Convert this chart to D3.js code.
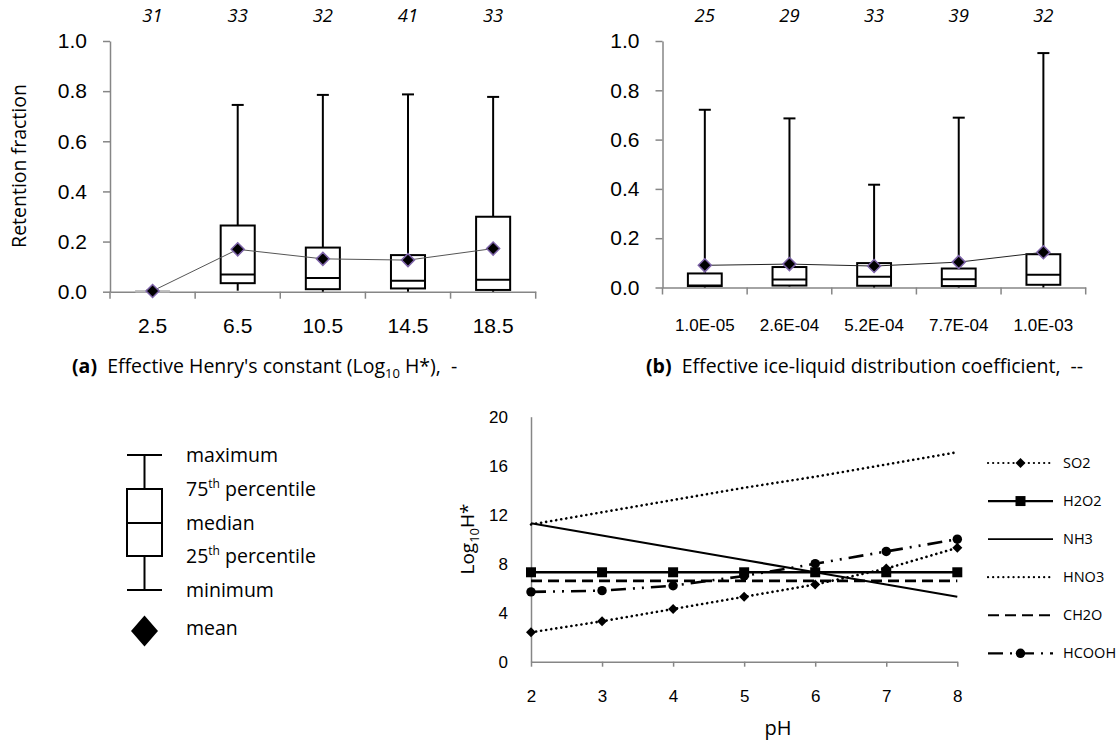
<!DOCTYPE html>
<html>
<head>
<meta charset="utf-8">
<script src="https://cdn.jsdelivr.net/npm/d3@7/dist/d3.min.js"></script>
<style>
  body { margin: 0; background: #fff; }
  svg { display: block; font-family: "Open Sans", "Noto Sans", sans-serif; }
</style>
</head>
<body>
<div id="chart"></div>
<script>
// panel (a) - effective Henry's constant bins
const catsA = ['2.5', '6.5', '10.5', '14.5', '18.5'];
const countsA = [31, 33, 32, 41, 33];
const minA = [0, 0.004, 0, 0, 0];
const q1A = [0, 0.034, 0.01, 0.013, 0.007];
const medA = [0.001, 0.069, 0.055, 0.044, 0.048];
const q3A = [0.004, 0.264, 0.176, 0.146, 0.299];
const maxA = [0.005, 0.745, 0.785, 0.787, 0.777];
const meanA = [0.003, 0.169, 0.131, 0.126, 0.172];

// panel (b) - ice-liquid distribution coefficient bins
const catsB = ['1.0E-05', '2.6E-04', '5.2E-04', '7.7E-04', '1.0E-03'];
const countsB = [25, 29, 33, 39, 32];
const minB = [0, 0.004, 0, 0, 0];
const q1B = [0.006, 0.008, 0.007, 0.006, 0.011];
const medB = [0.008, 0.032, 0.044, 0.033, 0.052];
const q3B = [0.057, 0.083, 0.099, 0.077, 0.135];
const maxB = [0.721, 0.686, 0.417, 0.689, 0.951];
const meanB = [0.09, 0.095, 0.087, 0.103, 0.143];

const yTicksBox = [0, 0.2, 0.4, 0.6, 0.8, 1.0];

// panel (c) - Log10 H* vs pH
const pH = [2, 3, 4, 5, 6, 7, 8];
const so2 = [2.4, 3.3, 4.3, 5.3, 6.3, 7.6, 9.3];
const h2o2 = [7.3, 7.3, 7.3, 7.3, 7.3, 7.3, 7.3];
const nh3 = [11.3, 10.3, 9.3, 8.3, 7.3, 6.3, 5.3];
const hno3 = [11.2, 12.2, 13.2, 14.2, 15.1, 16.1, 17.1];
const ch2o = [6.6, 6.6, 6.6, 6.6, 6.6, 6.6, 6.6];
const hcooh = [5.7, 5.8, 6.2, 7.0, 8.0, 9.0, 10.0];
const yTicksLine = [0, 4, 8, 12, 16, 20];

const W = 1120, H = 744;
const axisGrey = '#868686';

const svg = d3.select('#chart').append('svg')
  .attr('width', W)
  .attr('height', H);

function diamondPath(r) {
  return `M0,${-r}L${r},0L0,${r}L${-r},0Z`;
}

function drawBoxPanel(opt) {
  const g = svg.append('g');
  const x = d3.scaleBand().domain(opt.cats).range(opt.xRange).padding(0);
  const y = d3.scaleLinear().domain([0, 1]).range(opt.yRange);
  const bw = x.bandwidth() * 0.4;
  const cx = c => x(c) + x.bandwidth() / 2;

  // y axis
  const yAx = g.append('g')
    .attr('transform', `translate(${opt.xRange[0]},0)`)
    .call(d3.axisLeft(y).tickValues(yTicksBox).tickFormat(d3.format('.1f'))
      .tickSize(7).tickSizeOuter(0).tickPadding(16));
  yAx.selectAll('text').attr('font-size', 21).attr('fill', '#000');

  // x axis (labels only, boundary ticks drawn below)
  const xAx = g.append('g')
    .attr('transform', `translate(0,${opt.yRange[0]})`)
    .call(d3.axisBottom(x).tickSize(0).tickSizeOuter(0).tickPadding(opt.xPad));
  xAx.selectAll('text').attr('font-size', opt.xFont).attr('fill', '#000');

  const bounds = opt.cats.map(c => x(c)).concat([opt.xRange[1]]);
  g.selectAll('.bt').data(bounds).enter().append('line')
    .attr('x1', d => d).attr('x2', d => d)
    .attr('y1', opt.yRange[0]).attr('y2', opt.yRange[0] + 7)
    .attr('stroke', axisGrey).attr('stroke-width', 1.5);

  [yAx, xAx].forEach(a => {
    a.selectAll('.domain, line').attr('stroke', axisGrey).attr('stroke-width', 1.5);
  });

  const rows = opt.cats.map((c, i) => ({
    c, n: opt.counts[i], min: opt.min[i], q1: opt.q1[i], med: opt.med[i],
    q3: opt.q3[i], max: opt.max[i], mean: opt.mean[i]
  }));

  const boxes = g.selectAll('.box').data(rows).enter().append('g');
  // upper whisker
  boxes.append('line')
    .attr('x1', d => cx(d.c)).attr('x2', d => cx(d.c))
    .attr('y1', d => y(d.q3)).attr('y2', d => y(d.max))
    .attr('stroke', '#000').attr('stroke-width', 2);
  boxes.append('line')
    .attr('x1', d => cx(d.c) - 6).attr('x2', d => cx(d.c) + 6)
    .attr('y1', d => y(d.max)).attr('y2', d => y(d.max))
    .attr('stroke', '#000').attr('stroke-width', 2);
  // lower whisker
  boxes.append('line')
    .attr('x1', d => cx(d.c)).attr('x2', d => cx(d.c))
    .attr('y1', d => y(d.q1)).attr('y2', d => y(d.min))
    .attr('stroke', '#000').attr('stroke-width', 2);
  // box
  boxes.append('rect')
    .attr('x', d => cx(d.c) - bw / 2)
    .attr('width', bw)
    .attr('y', d => y(d.q3))
    .attr('height', d => Math.max(0.5, y(d.q1) - y(d.q3)))
    .attr('fill', '#fff')
    .attr('stroke', d => d.q3 - d.q1 < 0.01 ? '#bbb' : '#000')
    .attr('stroke-width', d => d.q3 - d.q1 < 0.01 ? 1 : 2);
  boxes.append('line')
    .attr('x1', d => cx(d.c) - bw / 2).attr('x2', d => cx(d.c) + bw / 2)
    .attr('y1', d => y(d.med)).attr('y2', d => y(d.med))
    .attr('stroke', d => d.q3 - d.q1 < 0.01 ? '#bbb' : '#000')
    .attr('stroke-width', 2);

  // mean line and markers
  g.append('path')
    .datum(rows)
    .attr('fill', 'none')
    .attr('stroke', opt.meanLine)
    .attr('stroke-width', 1)
    .attr('d', d3.line().x(d => cx(d.c)).y(d => y(d.mean)));
  g.selectAll('.mean').data(rows).enter().append('path')
    .attr('transform', d => `translate(${cx(d.c)},${y(d.mean)})`)
    .attr('d', diamondPath(6.5))
    .attr('fill', '#000')
    .attr('stroke', '#7d63a8')
    .attr('stroke-width', 1.5);

  // sample counts
  g.selectAll('.cnt').data(rows).enter().append('text')
    .attr('x', d => cx(d.c))
    .attr('y', 22)
    .attr('text-anchor', 'middle')
    .attr('font-size', 18.5)
    .attr('font-style', 'italic')
    .text(d => d.n);
}

drawBoxPanel({
  cats: catsA, counts: countsA, min: minA, q1: q1A, med: medA, q3: q3A, max: maxA, mean: meanA,
  xRange: [110, 535.7], yRange: [291.7, 41], xPad: 26, xFont: 21, meanLine: '#555'
});
drawBoxPanel({
  cats: catsB, counts: countsB, min: minB, q1: q1B, med: medB, q3: q3B, max: maxB, mean: meanB,
  xRange: [662.5, 1085.7], yRange: [287.5, 41], xPad: 31, xFont: 17, meanLine: '#222'
});

// y label of (a)
svg.append('text')
  .attr('transform', 'translate(26,166) rotate(-90)')
  .attr('text-anchor', 'middle')
  .attr('font-size', 19.5)
  .text('Retention fraction');

// captions
const capA = svg.append('text').attr('x', 72).attr('y', 373).attr('font-size', 19.5);
capA.append('tspan').attr('font-weight', 'bold').text('(a)');
capA.append('tspan').text('\u00a0 Effective Henry\'s constant (Log');
capA.append('tspan').attr('font-size', 13).attr('dy', 5).text('10');
capA.append('tspan').attr('dy', -5).text('\u00a0H*),\u00a0 -');

const capB = svg.append('text').attr('x', 646).attr('y', 373).attr('font-size', 19.5);
capB.append('tspan').attr('font-weight', 'bold').text('(b)');
capB.append('tspan').text('\u00a0 Effective ice-liquid distribution coefficient,\u00a0 --');

// box plot key
const key = svg.append('g');
const kx = 144.5, kw = 35;
const keyY = { max: 455, q3: 489, med: 523, q1: 556, min: 590, mean: 631 };
key.append('line').attr('x1', kx).attr('x2', kx).attr('y1', keyY.max).attr('y2', keyY.min)
  .attr('stroke', '#000').attr('stroke-width', 2);
[keyY.max, keyY.min].forEach(v => {
  key.append('line').attr('x1', kx - kw / 2).attr('x2', kx + kw / 2).attr('y1', v).attr('y2', v)
    .attr('stroke', '#000').attr('stroke-width', 2);
});
key.append('rect').attr('x', kx - kw / 2).attr('y', keyY.q3).attr('width', kw)
  .attr('height', keyY.q1 - keyY.q3).attr('fill', '#fff').attr('stroke', '#000').attr('stroke-width', 2);
key.append('line').attr('x1', kx - kw / 2).attr('x2', kx + kw / 2).attr('y1', keyY.med).attr('y2', keyY.med)
  .attr('stroke', '#000').attr('stroke-width', 2);
key.append('path').attr('transform', `translate(${kx},${keyY.mean})`)
  .attr('d', 'M0,-15.5L13.5,0L0,15.5L-13.5,0Z').attr('fill', '#000');

function keyText(yv, main, sup, rest) {
  const t = key.append('text').attr('x', 186).attr('y', yv + 7).attr('font-size', 19.5);
  t.append('tspan').text(main);
  if (sup) {
    t.append('tspan').attr('font-size', 12).attr('dy', -8).text(sup);
    t.append('tspan').attr('dy', 8).text(rest);
  }
}
keyText(keyY.max, 'maximum');
keyText(keyY.q3, '75', 'th', '\u00a0percentile');
keyText(keyY.med, 'median');
keyText(keyY.q1, '25', 'th', '\u00a0percentile');
keyText(keyY.min, 'minimum');
keyText(keyY.mean - 3, 'mean');

// line chart (c)
const lx = d3.scaleLinear().domain([2, 8]).range([531, 957.3]);
const ly = d3.scaleLinear().domain([0, 20]).range([661.7, 416.7]);
const lg = svg.append('g');

const lyAx = lg.append('g').attr('transform', 'translate(531,0)')
  .call(d3.axisLeft(ly).tickValues(yTicksLine).tickSize(0).tickPadding(23));
lyAx.selectAll('text').attr('font-size', 17).attr('fill', '#000');
const lxAx = lg.append('g').attr('transform', 'translate(0,661.7)')
  .call(d3.axisBottom(lx).tickValues(pH).tickFormat(d3.format('d')).tickSize(5).tickSizeOuter(0).tickPadding(23));
lxAx.selectAll('text').attr('font-size', 17).attr('fill', '#000');
[lyAx, lxAx].forEach(a => a.selectAll('.domain, line').attr('stroke', axisGrey).attr('stroke-width', 1.5));

lg.append('text').attr('x', 778).attr('y', 735).attr('text-anchor', 'middle')
  .attr('font-size', 20).text('pH');
const logLab = lg.append('text').attr('transform', 'translate(474,539) rotate(-90)')
  .attr('text-anchor', 'middle').attr('font-size', 19);
logLab.append('tspan').text('Log');
logLab.append('tspan').attr('font-size', 13).attr('dy', 5).text('10');
logLab.append('tspan').attr('dy', -5).text('H*');

const series = [
  { name: 'SO2', vals: so2, dash: '0.1,5', cap: 'round', w: 2.6, marker: 'diamond' },
  { name: 'H2O2', vals: h2o2, dash: null, cap: 'butt', w: 2.6, marker: 'square' },
  { name: 'NH3', vals: nh3, dash: null, cap: 'butt', w: 2.2, marker: null },
  { name: 'HNO3', vals: hno3, dash: '0.1,5', cap: 'round', w: 2.6, marker: null },
  { name: 'CH2O', vals: ch2o, dash: '11,6', cap: 'butt', w: 2.6, marker: null },
  { name: 'HCOOH', vals: hcooh, dash: '15,7,2,7,2,7', cap: 'butt', w: 2.6, marker: 'circle' }
];

function markerPath(type) {
  if (type === 'diamond') return diamondPath(5);
  if (type === 'square') return 'M-5,-5H5V5H-5Z';
  if (type === 'circle') return d3.symbol(d3.symbolCircle, 70)();
  return null;
}

const line = d3.line().x((d, i) => lx(pH[i])).y(d => ly(d));
series.forEach(s => {
  lg.append('path').datum(s.vals)
    .attr('fill', 'none').attr('stroke', '#000')
    .attr('stroke-width', s.w)
    .attr('stroke-dasharray', s.dash)
    .attr('stroke-linecap', s.cap)
    .attr('d', line);
  if (s.marker) {
    lg.selectAll(null).data(s.vals).enter().append('path')
      .attr('transform', (d, i) => `translate(${lx(pH[i])},${ly(d)})`)
      .attr('d', markerPath(s.marker))
      .attr('fill', '#000');
  }
});

// line legend
const leg = svg.append('g');
const legY = d3.scalePoint().domain(series.map(s => s.name)).range([463, 653.3]);
series.forEach(s => {
  const yy = legY(s.name);
  leg.append('line').attr('x1', 988).attr('x2', 1053).attr('y1', yy).attr('y2', yy)
    .attr('stroke', '#000').attr('stroke-width', s.w - 0.4)
    .attr('stroke-dasharray', s.name === 'HCOOH' ? '15,7,2,7' : s.dash)
    .attr('stroke-linecap', s.cap);
  if (s.marker) {
    leg.append('path').attr('transform', `translate(${(988 + 1053) / 2},${yy})`)
      .attr('d', markerPath(s.marker)).attr('fill', '#000');
  }
  leg.append('text').attr('x', 1063).attr('y', yy + 5).attr('font-size', 14.5).text(s.name);
});
</script>
</body>
</html>
